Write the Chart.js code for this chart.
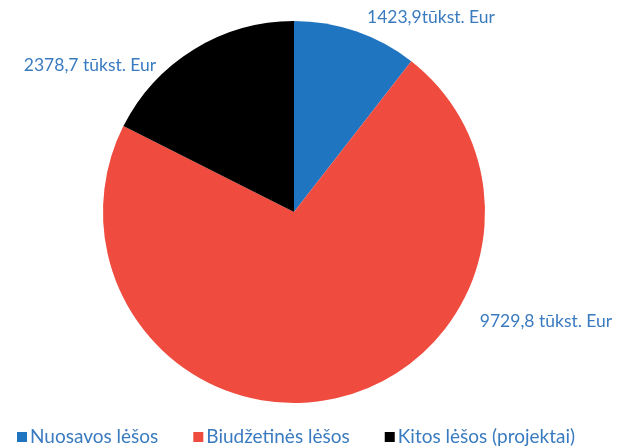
<!DOCTYPE html>
<html>
<head>
<meta charset="utf-8">
<script src="https://cdn.jsdelivr.net/npm/chart.js@4/dist/chart.umd.min.js"></script>
<style>
  html, body { margin: 0; padding: 0; background: #fff; }
  #wrap { width: 620px; height: 448px; }
</style>
</head>
<body>
<div id="wrap"><canvas id="chart-funds"></canvas></div>
<script>
// Lėšų pasiskirstymas, tūkst. Eur
const CATEGORIES = ['Nuosavos lėšos', 'Biudžetinės lėšos', 'Kitos lėšos (projektai)'];
const VALUES     = [1423.9, 9729.8, 2378.7];
const LABELS     = ['1423,9tūkst. Eur', '9729,8 tūkst. Eur', '2378,7 tūkst. Eur'];
const COLORS     = ['#1f75c0', '#ef4b3e', '#000000'];

const TEXT_BLUE = '#3a7bc0';
const FONT = 'Lato, "Open Sans", sans-serif';

// vietos, kur rašomos reikšmės šalia sektorių
const LABEL_POS = [[431, 17], [546, 321], [90, 65]];

const valueLabels = {
    id: 'valueLabels',
    afterDraw(chart) {
        const ctx = chart.ctx;
        ctx.save();
        ctx.fillStyle = TEXT_BLUE;
        ctx.font = '17.5px ' + FONT;
        ctx.textAlign = 'center';
        ctx.textBaseline = 'middle';
        LABELS.forEach((t, i) => ctx.fillText(t, LABEL_POS[i][0], LABEL_POS[i][1]));
        ctx.restore();
    }
};

// legenda apačioje: kvadratėlis + pavadinimas, eilute iš kairės
const bottomLegend = {
    id: 'bottomLegend',
    afterDraw(chart) {
        const ctx = chart.ctx;
        const meta = chart.getDatasetMeta(0);
        ctx.save();
        ctx.font = '19px ' + FONT;
        ctx.textBaseline = 'middle';
        let x = 17;
        const y = 437;
        CATEGORIES.forEach((name, i) => {
            ctx.fillStyle = meta.data[i].options.backgroundColor;
            ctx.fillRect(x, y - 5, 10, 10);
            x += 13;
            ctx.fillStyle = TEXT_BLUE;
            ctx.fillText(name, x, y);
            x += ctx.measureText(name).width + 35;
        });
        ctx.restore();
    }
};

new Chart(document.getElementById('chart-funds').getContext('2d'), {
    type: 'pie',
    data: {
        labels: CATEGORIES,
        datasets: [{
            data: VALUES,
            backgroundColor: COLORS,
            borderWidth: 0
        }]
    },
    options: {
        responsive: true, maintainAspectRatio: false,
        animation: false,
        layout: { padding: { top: 21, left: 0, right: 32, bottom: 45 } },
        plugins: {
            tooltip: { enabled: false },
            legend: { display: false }
        }
    },
    plugins: [valueLabels, bottomLegend]
});
</script>
</body>
</html>
